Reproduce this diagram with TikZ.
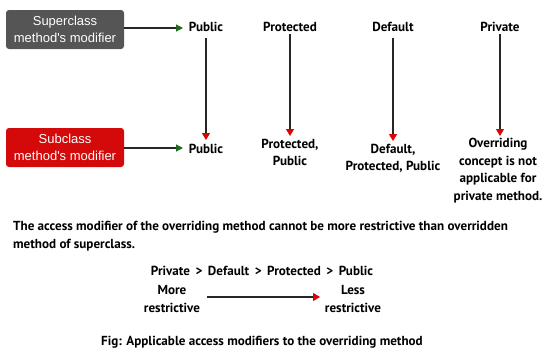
\documentclass[tikz,border=0pt]{standalone}
\usepackage{fontspec}
\setmainfont{PT Sans}
\newfontfamily\boxfont{Liberation Sans}
\usepackage{xcolor}
\usetikzlibrary{arrows.meta, positioning}

\definecolor{supergray}{HTML}{555555}
\definecolor{subred}{HTML}{D40A0A}
\definecolor{tipgreen}{HTML}{1E6B1E}
\definecolor{tipred}{HTML}{E00000}

\begin{document}
\begin{tikzpicture}[x=1pt, y=-1pt,
  modbox/.style={rectangle, fill=#1, minimum width=118pt, minimum height=39pt, rounded corners=3pt, text=white, align=center, font=\boxfont\fontsize{13}{16.5}\selectfont},
  lbl/.style={align=center, inner sep=0pt, font=\bfseries\fontsize{13.1}{17.5}\selectfont},
  garr/.style={line width=1.1pt, draw=black!85, arrows={-{Triangle[length=7pt, width=7pt, fill=tipgreen, color=tipgreen]}}},
  rarr/.style={line width=1.1pt, draw=black!85, arrows={-{Triangle[length=7pt, width=8pt, fill=tipred, color=tipred]}}}
]
\useasboundingbox (0,0) rectangle (559,356);

% Modifier boxes
\node[modbox=supergray] (super) at (65, 29.5) {Superclass\\method's modifier};
\node[modbox=subred] (sub) at (65, 147.5) {Subclass\\method's modifier};

% Superclass modifiers
\node[lbl] (pub1) at (206, 27) {Public};
\node[lbl] (prot1) at (290, 27) {Protected};
\node[lbl] (def1) at (393, 27) {Default};
\node[lbl] (priv1) at (500, 27) {Private};

% Allowed subclass modifiers
\node[lbl] (pub2) at (206, 149) {Public};
\node[lbl] (prot2) at (290, 152.5) {Protected,\\Public};
\node[lbl] (def2) at (393, 158.5) {Default,\\Protected, Public};
\node[lbl] (priv2) at (498, 170.5) {Overriding\\concept is not\\applicable for\\private method.};

% Arrows
\draw[garr] (super.east |- 0,28) -- (183, 28);
\draw[garr] (sub.east |- 0,148) -- (183, 148);
\draw[rarr] (206, 38) -- (206, 140);
\draw[rarr] (290, 34) -- (290, 136);
\draw[rarr] (393, 38) -- (393, 141);
\draw[rarr] (500, 34) -- (500, 136);

% Rule
\node[lbl, align=left, anchor=north west] (rule) at (13, 221) {The access modifier of the overriding method cannot be more restrictive than overridden\\method of superclass.};

% Ordering
\node[lbl] (order) at (262, 271) {Private \,>\, Default \,>\, Protected \,>\, Public};
\node[lbl] (more) at (172, 299) {More\\restrictive};
\node[lbl] (less) at (353, 299) {Less\\restrictive};
\draw[rarr] (207, 297) -- (320, 297);

% Caption
\node[lbl] (caption) at (262, 342) {Fig: Applicable access modifiers to the overriding method};
\end{tikzpicture}
\end{document}
